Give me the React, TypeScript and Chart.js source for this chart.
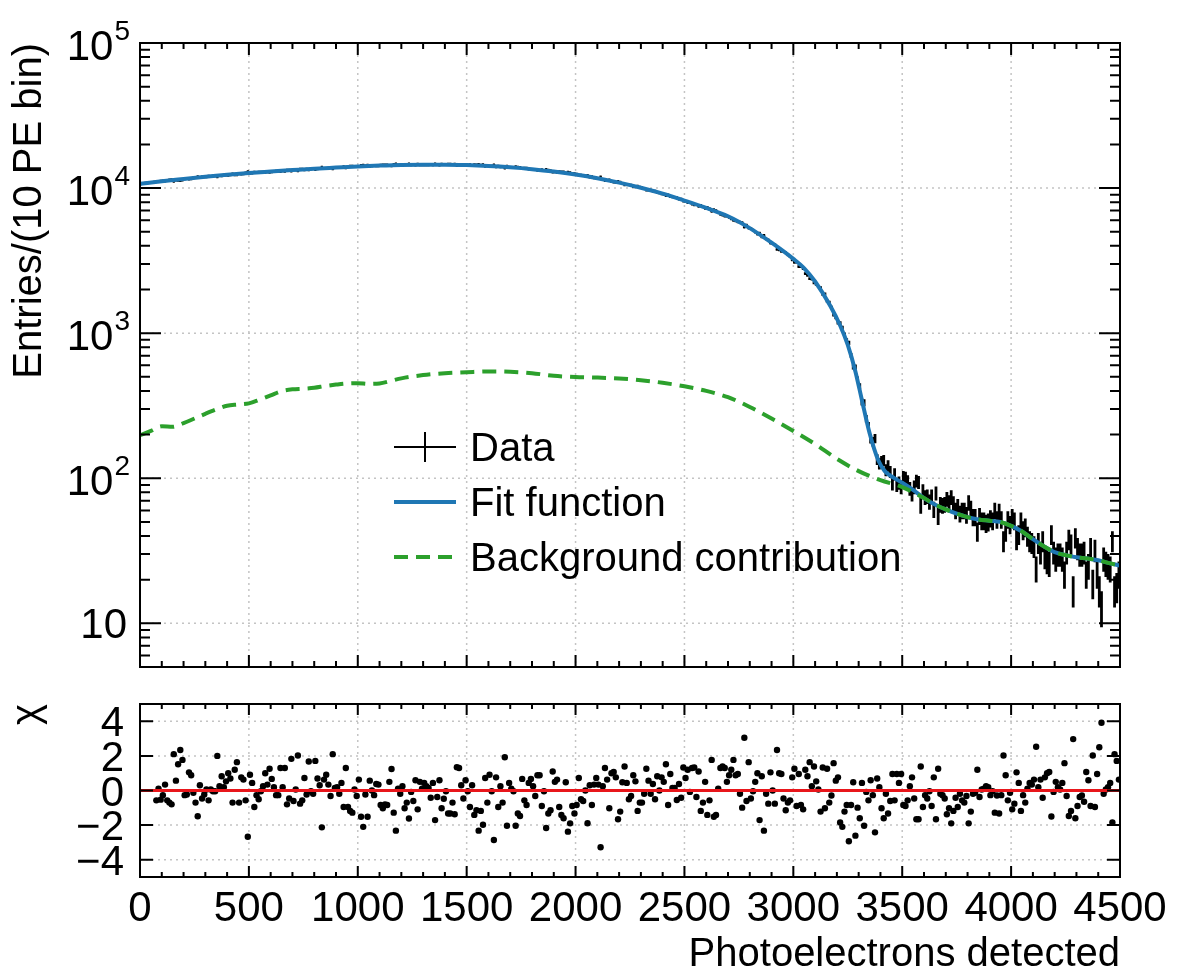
import React, { useEffect, useRef } from "react";
import { Chart, registerables } from "chart.js";

Chart.register(...registerables);

// ---- binning ----
const X_MIN = 0;
const X_MAX = 4500;
const BIN_WIDTH = 10;

// Entries per 10 PE bin (450 bins, 0 .. 4500 PE)
const counts: number[] = [
  10700, 10790, 10800, 10870, 10890, 10960, 10980, 11098, 11072, 11184,
  11199, 11174, 11311, 11365, 11415, 11146, 11349, 11288, 11240, 11340,
  11599, 11635, 11537, 11595, 11744, 11846, 11972, 11817, 11940, 11955,
  11963, 12073, 12043, 12094, 12134, 11950, 12182, 12160, 12269, 12272,
  12256, 12326, 12516, 12339, 12325, 12621, 12493, 12542, 12712, 12983,
  12612, 12695, 12883, 12836, 12893, 12870, 12867, 12811, 12916, 12842,
  12938, 13023, 13106, 13136, 12986, 13143, 13046, 13317, 13308, 13075,
  13386, 13338, 13141, 13493, 13501, 13381, 13522, 13330, 13560, 13607,
  13413, 13557, 13628, 13937, 13639, 13632, 13723, 13825, 13567, 13820,
  13841, 13910, 13861, 14050, 13810, 14100, 14152, 14189, 14056, 14126,
  14035, 14311, 14400, 14197, 14371, 14142, 14230, 14282, 14225, 14250,
  14409, 14447, 14434, 14454, 14308, 14234, 14552, 14692, 14415, 14466,
  14423, 14582, 14547, 14663, 14483, 14551, 14412, 14619, 14433, 14485,
  14447, 14470, 14482, 14551, 14447, 14706, 14546, 14429, 14624, 14558,
  14500, 14645, 14635, 14549, 14619, 14283, 14279, 14389, 14470, 14334,
  14395, 14484, 14314, 14498, 14446, 14567, 14411, 14487, 14144, 14294,
  14077, 14160, 14464, 14005, 14178, 14005, 14088, 13747, 14187, 13863,
  13867, 13845, 14039, 13916, 13892, 13602, 13707, 13698, 13509, 13442,
  13446, 13462, 13274, 13224, 13379, 13230, 13425, 13278, 13206, 12898,
  12913, 12839, 12957, 12949, 12911, 12616, 12879, 12765, 12592, 12580,
  12457, 12216, 12281, 12222, 12085, 12223, 11912, 11967, 11768, 11656,
  11624, 11928, 11473, 11282, 11273, 11369, 11074, 10987, 10940, 11116,
  10982, 10724, 10546, 10558, 10570, 10466, 10258, 10209, 10298, 10164,
  10074, 9934, 9701, 9679, 9664, 9518, 9515, 9295, 9285, 9121,
  9056, 8865, 8992, 8729, 8709, 8614, 8585, 8402, 8382, 8123,
  8090, 7952, 7970, 7754, 7656, 7711, 7486, 7592, 7455, 7254,
  7372, 7205, 6914, 7098, 6997, 6781, 6594, 6500, 6422, 6401,
  6275, 6139, 5988, 5950, 5841, 5825, 5784, 5381, 5557, 5295,
  5272, 5122, 4966, 4816, 4891, 4608, 4712, 4465, 4399, 4181,
  4143, 4080, 3777, 3757, 3659, 3645, 3587, 3467, 3367, 3202,
  3073, 3085, 2879, 2874, 2788, 2575, 2504, 2375, 2360, 2223,
  2173, 2094, 2056, 1851, 1866, 1668, 1633, 1509, 1339, 1284,
  1182, 1174, 1090, 978, 891, 859, 703, 585, 584, 480,
  431, 336, 332, 257, 229, 187, 179, 188, 135, 126,
  131, 133, 114, 122, 111, 92, 107, 90, 93, 87,
  102, 101, 95, 85, 78, 87, 96, 94, 65, 82,
  74, 75, 69, 75, 61, 79, 55, 66, 65, 66,
  72, 68, 74, 67, 60, 64, 57, 60, 60, 56,
  68, 62, 54, 54, 43, 55, 51, 51, 49, 50,
  53, 51, 60, 52, 59, 52, 37, 43, 52, 48,
  54, 51, 38, 41, 51, 44, 46, 40, 37, 36,
  34, 24, 36, 31, 37, 29, 27, 26, 41, 31,
  28, 30, 30, 28, 22, 31, 38, 35, 17, 39,
  33, 30, 30, 31, 22, 25, 33, 19, 32, 22,
  17, 13, 28, 26, 25, 24, 37, 17, 18, 22,
];

// Fit residuals per bin (null where the bin is outside the fit range)
const residuals: (number | null)[] = [
  null, null, null, null, null, null, null, -0.57, 0.1, -0.53,
  -0.27, 0.34, -0.57, -0.7, -0.8, 2.1, 0.57, 1.52, 2.34, 1.77,
  -0.27, -0.23, 1.05, 0.88, -0.13, -0.7, -1.49, 0.3, -0.46, -0.23,
  0.06, -0.57, 0.06, -0.04, -0.04, 2.0, 0.25, 0.82, 0.19, 0.53,
  1.0, 0.69, -0.7, 1.2, 1.64, -0.7, 0.76, 0.63, -0.57, -2.67,
  0.91, 0.44, -0.95, -0.27, -0.51, -0.04, 0.25, 1.0, 0.34, 1.26,
  0.67, 0.19, -0.27, -0.27, 1.3, 0.19, 1.3, -0.8, -0.46, 1.83,
  -0.61, 0.06, 2.02, -0.76, -0.57, 0.72, -0.23, 1.68, -0.04, -0.19,
  1.71, 0.69, 0.3, -2.13, 0.63, 0.91, 0.34, -0.32, 2.1, 0.15,
  0.19, -0.19, 0.44, -0.95, 1.3, -0.95, -1.18, -1.28, 0.06, -0.32,
  0.63, -1.52, -2.1, -0.23, -1.52, 0.57, 0, -0.27, 0.38, 0.34,
  -0.84, -1.03, -0.8, -0.84, 0.5, 1.24, -1.28, -2.32, 0.11, -0.19,
  0.25, -1.03, -0.7, -1.62, -0.08, -0.61, 0.59, -1.09, 0.5, 0.11,
  0.44, 0.25, 0.15, -0.42, 0.44, -1.71, -0.38, 0.59, -1.03, -0.48,
  -0.04, -1.33, -1.33, -0.7, -1.37, 1.35, 1.3, 0.3, -0.46, 0.59,
  -0.04, -0.95, 0.3, -1.41, -1.14, -2.32, -1.18, -1.98, 0.72, -0.7,
  0.91, -0.04, -2.86, 0.76, -0.95, 0.25, -0.7, 1.92, -2.04, 0.44,
  0.11, -0.04, -2.04, -1.33, -1.47, 0.67, -0.57, -0.84, 0.44, 0.67,
  0.25, -0.32, 0.88, 0.88, -0.9, -0.04, -2.17, -1.33, -1.14, 1.1,
  0.5, 0.63, -0.95, -1.41, -1.6, 0.48, -2.38, -1.9, -0.9, -1.33,
  -0.84, 0.72, -0.51, -0.61, 0, -1.89, 0.3, -0.84, 0.34, 0.72,
  0.34, -3.28, 0.25, 1.3, 0.63, -1.03, 1.0, 1.07, 0.76, -1.66,
  -1.22, 0.48, 1.39, 0.44, -0.51, -0.32, 0.88, 0.53, -1.18, -0.7,
  -0.7, -0.19, 1.26, 0.57, -0.19, 0.38, -0.51, 0.82, 0, 0.76,
  0.5, 1.52, -0.84, 0.95, 0.15, 0.15, -0.55, 0.38, -0.42, 1.33,
  0.72, 1.2, -0.08, 1.3, 1.33, -0.38, 1.1, -1.18, -0.7, 0.5,
  -1.41, -0.57, 1.77, -1.52, -1.41, 0.11, 1.3, 1.39, 1.3, 0.5,
  0.88, 1.2, 1.77, 0.88, 0.95, -0.19, -0.99, 3.05, -0.61, 1.64,
  -0.46, -0.04, 0.5, 1.0, -1.71, 0.82, -2.32, -0.19, -0.76, 1.05,
  0, -0.76, 2.34, 1.0, 0.95, -0.46, -1.14, -0.7, -0.57, 0.76,
  1.26, -0.9, 0.95, -0.84, -1.09, 1.2, 0.82, 1.64, 0.25, 1.39,
  0.53, 0.06, -1.22, 1.33, -1.03, 1.26, -0.7, -0.29, 1.58, 0.57,
  0.76, -1.85, -2.1, -1.22, -0.84, -2.93, -0.84, 0.48, -2.61, -0.99,
  -1.6, 0.44, -2.04, -0.08, -0.57, 0.59, -0.27, -2.42, 0.69, 0.19,
  -1.03, -1.6, -0.19, -1.33, -0.61, 0.95, -0.57, 0.95, 0.44, 0.95,
  -0.84, -0.9, -0.57, 0.25, 0.76, -0.46, -1.66, -1.66, 1.39, -0.95,
  -0.27, -0.46, -0.04, -0.9, 0.76, -1.66, 1.26, -0.19, -0.27, -0.46,
  -1.37, -1.03, -1.9, -1.18, -0.42, -0.95, -0.19, -0.57, -0.7, -0.32,
  -1.9, -1.22, -0.19, -0.13, 1.2, -0.38, 0.06, 0.11, 0.25, 0.19,
  -0.27, -0.04, -1.28, -0.29, -1.33, -0.27, 2.02, 0.88, -0.57, -0.13,
  -1.09, -0.76, 1.05, 0.44, -1.18, -0.27, -0.7, 0.11, 0.44, 0.34,
  0.63, 2.53, 0.19, 0.63, -0.42, 0.76, 1.0, 1.07, -1.5, -0.08,
  0.5, 0.19, 0.06, 0.44, 1.58, -0.32, -1.47, -1.18, 2.97, -1.6,
  -0.9, -0.38, -0.29, -0.65, 1.07, 0.59, -0.9, 2.02, -0.95, 0.95,
  2.5, 3.92, -0.19, 0.06, 0.19, 0.44, -1.85, 2.1, 1.71, 0.63,
];

// Fit function sampled along the PE axis
const fitPE: number[] = [
  0, 100, 200, 300, 400, 500, 600, 700, 800, 900, 1000, 1100, 1200, 1300, 1400,
  1500, 1600, 1700, 1800, 1900, 2000, 2100, 2200, 2300, 2400, 2500, 2600, 2700,
  2800, 2900, 3000, 3050, 3100, 3170, 3215, 3250, 3285, 3315, 3350, 3390, 3420,
  3460, 3500, 3550, 3600, 3650, 3700, 3750, 3800, 3850, 3900, 3950, 4000, 4050,
  4100, 4150, 4200, 4250, 4300, 4350, 4400, 4450, 4500,
];
const fitValue: number[] = [
  10700, 11150, 11550, 11950, 12350, 12700, 13000, 13300, 13600, 13850, 14100,
  14300, 14450, 14500, 14500, 14400, 14200, 13900, 13500, 13000, 12400, 11700,
  10900, 10050, 9150, 8200, 7300, 6400, 5300, 4200, 3250, 2800, 2270, 1540,
  1130, 830, 545, 345, 205, 133, 112, 101, 93, 83, 73, 66, 61, 57, 54, 52, 51,
  50, 47, 43, 38, 34, 31, 29.5, 28.5, 28, 27.2, 26, 25,
];

// Background component of the fit
const bkgPE: number[] = [
  0, 50, 100, 150, 200, 250, 300, 350, 400, 450, 500, 550, 600, 650, 700, 750,
  800, 850, 900, 950, 1000, 1050, 1100, 1150, 1200, 1300, 1400, 1500, 1600,
  1700, 1800, 1900, 2000, 2100, 2200, 2300, 2400, 2500, 2600, 2700, 2800, 2900,
  3000, 3100, 3200, 3300, 3400, 3500, 3550, 3600, 3650, 3700, 3750, 3800, 3850,
  3900, 3950, 4000, 4050, 4100, 4150, 4200, 4250, 4300, 4350, 4400, 4450, 4500,
];
const bkgValue: number[] = [
  198, 212, 228, 226, 240, 258, 278, 298, 316, 322, 328, 348, 372, 398, 410,
  414, 420, 432, 442, 450, 452, 447, 450, 468, 488, 514, 530, 538, 545, 542,
  530, 508, 498, 494, 487, 474, 455, 430, 400, 362, 310, 258, 212, 172, 136,
  112, 97, 87, 80, 73, 66, 61, 57, 54, 52, 51, 50, 47, 43, 38, 34, 31, 29.5,
  28.5, 28, 27.2, 26, 25,
];

// Axis ticks and labels
const xTickValues = [0, 500, 1000, 1500, 2000, 2500, 3000, 3500, 4000, 4500];
const decadeTicks = [10, 100, 1000, 10000, 100000];
const chiTicks = [-4, -2, 0, 2, 4];
const legendLabels = ["Data", "Fit function", "Background contribution"];
const xTitle = "Photoelectrons detected";
const yTitle = "Entries/(10 PE bin)";
const chiTitle = "\u03c7";

const FONT = '"Liberation Sans", Arial, Helvetica, sans-serif';
const BLUE = "#1f77b4";
const GREEN = "#2ca02c";
const RED = "#e8161b";
const GRID = "#c4c4c4";

const binCenter = (i: number) => X_MIN + (i + 0.5) * BIN_WIDTH;

type Area = { left: number; right: number; top: number; bottom: number };

function drawGrid(ctx: CanvasRenderingContext2D, a: Area, xs: number[], ys: number[]) {
  ctx.save();
  ctx.strokeStyle = GRID;
  ctx.lineWidth = 1.5;
  ctx.setLineDash([2, 4]);
  xs.forEach((px) => {
    ctx.beginPath();
    ctx.moveTo(px, a.top);
    ctx.lineTo(px, a.bottom);
    ctx.stroke();
  });
  ys.forEach((py) => {
    ctx.beginPath();
    ctx.moveTo(a.left, py);
    ctx.lineTo(a.right, py);
    ctx.stroke();
  });
  ctx.restore();
}

function drawFrameTicks(
  ctx: CanvasRenderingContext2D,
  a: Area,
  xTicks: { px: number; major: boolean }[],
  yTicks: { py: number; major: boolean }[],
  len: { xMaj: number; xMin: number; yMaj: number; yMin: number }
) {
  ctx.save();
  ctx.strokeStyle = "#000";
  ctx.lineWidth = 2;
  ctx.setLineDash([]);
  ctx.beginPath();
  xTicks.forEach(({ px, major }) => {
    const l = major ? len.xMaj : len.xMin;
    ctx.moveTo(px, a.bottom);
    ctx.lineTo(px, a.bottom - l);
    ctx.moveTo(px, a.top);
    ctx.lineTo(px, a.top + l);
  });
  yTicks.forEach(({ py, major }) => {
    const l = major ? len.yMaj : len.yMin;
    ctx.moveTo(a.left, py);
    ctx.lineTo(a.left + l, py);
    ctx.moveTo(a.right, py);
    ctx.lineTo(a.right - l, py);
  });
  ctx.stroke();
  ctx.strokeRect(a.left, a.top, a.right - a.left, a.bottom - a.top);
  ctx.restore();
}

function xTickList(scale: any) {
  const list: { px: number; major: boolean }[] = [];
  for (let v = X_MIN; v <= X_MAX; v += 100) {
    list.push({ px: scale.getPixelForValue(v), major: v % 500 === 0 });
  }
  return list;
}

// Decorations of the spectrum panel: grid, error bars, frame, labels, legend
const spectrumDecor = {
  id: "spectrumDecor",
  beforeDatasetsDraw(chart: any) {
    const { ctx, chartArea: a, scales } = chart;
    const xs = scales.x;
    const ys = scales.y;
    drawGrid(
      ctx,
      a,
      xTickValues.filter((v) => v > X_MIN && v < X_MAX).map((v) => xs.getPixelForValue(v)),
      decadeTicks.filter((v) => v < ys.max).map((v) => ys.getPixelForValue(v))
    );
    // data points with Poisson error bars
    const pts = chart.data.datasets[2].data as { x: number; y: number }[];
    ctx.save();
    ctx.beginPath();
    ctx.rect(a.left, a.top, a.right - a.left, a.bottom - a.top);
    ctx.clip();
    ctx.strokeStyle = "#000";
    ctx.lineWidth = 2.8;
    ctx.beginPath();
    pts.forEach((p) => {
      const s = Math.sqrt(p.y);
      const px = xs.getPixelForValue(p.x);
      const x0 = xs.getPixelForValue(p.x - BIN_WIDTH / 2);
      const x1 = xs.getPixelForValue(p.x + BIN_WIDTH / 2);
      const py = ys.getPixelForValue(p.y);
      const lo = p.y - s > ys.min ? ys.getPixelForValue(p.y - s) : a.bottom;
      const hi = ys.getPixelForValue(p.y + s);
      ctx.moveTo(px, lo);
      ctx.lineTo(px, hi);
      ctx.moveTo(x0, py);
      ctx.lineTo(x1, py);
    });
    ctx.stroke();
    ctx.restore();
  },
  afterDatasetsDraw(chart: any) {
    const { ctx, chartArea: a, scales } = chart;
    const xs = scales.x;
    const ys = scales.y;
    const yTicks: { py: number; major: boolean }[] = [];
    for (let e = 0; e <= 5; e++) {
      for (let k = 1; k <= 9; k++) {
        const v = k * Math.pow(10, e);
        if (v < ys.min || v > ys.max) continue;
        yTicks.push({ py: ys.getPixelForValue(v), major: k === 1 });
      }
    }
    drawFrameTicks(ctx, a, xTickList(xs), yTicks, { xMaj: 12, xMin: 6, yMaj: 21, yMin: 10 });

    // y tick labels (powers of ten)
    ctx.save();
    ctx.fillStyle = "#000";
    const xr = 130;
    decadeTicks.forEach((v) => {
      const py = ys.getPixelForValue(v);
      const exp = Math.round(Math.log10(v));
      if (exp === 1) {
        ctx.font = `42px ${FONT}`;
        ctx.textAlign = "right";
        ctx.textBaseline = "alphabetic";
        ctx.fillText("10", xr - 3, py + 15);
        return;
      }
      ctx.font = `28px ${FONT}`;
      const ew = ctx.measureText(String(exp)).width;
      ctx.textAlign = "left";
      ctx.textBaseline = "alphabetic";
      ctx.fillText(String(exp), xr - ew, py - 3);
      ctx.font = `42px ${FONT}`;
      ctx.textAlign = "right";
      ctx.fillText("10", xr - ew - 1, py + 17);
    });

    // y axis title
    ctx.font = `40px ${FONT}`;
    ctx.translate(41, a.top);
    ctx.rotate(-Math.PI / 2);
    ctx.textAlign = "right";
    ctx.textBaseline = "alphabetic";
    ctx.fillText(yTitle, 0, 0);
    ctx.restore();

    // legend
    ctx.save();
    const lx0 = 394;
    const lx1 = 456;
    const rows = [447, 502, 557];
    ctx.strokeStyle = "#000";
    ctx.lineWidth = 2;
    ctx.beginPath();
    ctx.moveTo(lx0, rows[0]);
    ctx.lineTo(lx1, rows[0]);
    ctx.moveTo((lx0 + lx1) / 2, rows[0] - 15);
    ctx.lineTo((lx0 + lx1) / 2, rows[0] + 15);
    ctx.stroke();
    ctx.strokeStyle = BLUE;
    ctx.lineWidth = 4;
    ctx.beginPath();
    ctx.moveTo(lx0, rows[1]);
    ctx.lineTo(lx1, rows[1]);
    ctx.stroke();
    ctx.strokeStyle = GREEN;
    ctx.setLineDash([14, 8]);
    ctx.beginPath();
    ctx.moveTo(lx0, rows[2]);
    ctx.lineTo(lx1, rows[2]);
    ctx.stroke();
    ctx.setLineDash([]);
    ctx.fillStyle = "#000";
    ctx.font = `40px ${FONT}`;
    ctx.textAlign = "left";
    ctx.textBaseline = "alphabetic";
    legendLabels.forEach((t, i) => ctx.fillText(t, 470, rows[i] + 14));
    ctx.restore();
  },
};

// Decorations of the residual panel
const residualDecor = {
  id: "residualDecor",
  beforeDatasetsDraw(chart: any) {
    const { ctx, chartArea: a, scales } = chart;
    drawGrid(
      ctx,
      a,
      xTickValues.filter((v) => v > X_MIN && v < X_MAX).map((v) => scales.x.getPixelForValue(v)),
      chiTicks.filter((v) => v !== 0).map((v) => scales.y.getPixelForValue(v))
    );
  },
  afterDatasetsDraw(chart: any) {
    const { ctx, chartArea: a, scales } = chart;
    const xs = scales.x;
    const ys = scales.y;
    drawFrameTicks(
      ctx,
      a,
      xTickList(xs),
      chiTicks.map((v) => ({ py: ys.getPixelForValue(v), major: true })),
      { xMaj: 11, xMin: 5, yMaj: 13, yMin: 6 }
    );
    ctx.save();
    ctx.fillStyle = "#000";
    ctx.font = `42px ${FONT}`;
    ctx.textBaseline = "alphabetic";
    ctx.textAlign = "right";
    chiTicks.forEach((v) => {
      const label = v < 0 ? "\u2212" + Math.abs(v) : String(v);
      ctx.fillText(label, 124, ys.getPixelForValue(v) + 15);
    });
    ctx.textAlign = "center";
    xTickValues.forEach((v) => {
      ctx.fillText(String(v), xs.getPixelForValue(v), a.bottom + 44);
    });
    ctx.font = `40px ${FONT}`;
    ctx.textAlign = "right";
    ctx.fillText(xTitle, a.right, a.bottom + 89);
    ctx.translate(39, a.top);
    ctx.rotate(-Math.PI / 2);
    ctx.textAlign = "right";
    ctx.fillText(chiTitle, 0, 0);
    ctx.restore();
  },
};

export default function App() {
  const topRef = useRef<HTMLCanvasElement>(null);
  const botRef = useRef<HTMLCanvasElement>(null);

  useEffect(() => {
    if (!topRef.current || !botRef.current) return;

    const dataPoints = counts.map((c, i) => ({ x: binCenter(i), y: c }));
    const fitPoints = fitPE.map((x, i) => ({ x, y: fitValue[i] }));
    const bkgPoints = bkgPE.map((x, i) => ({ x, y: bkgValue[i] }));

    const spectrum = new Chart(topRef.current, {
      type: "line",
      data: {
        datasets: [
          {
            label: legendLabels[2],
            data: bkgPoints,
            borderColor: GREEN,
            borderWidth: 4,
            borderDash: [14, 8],
            pointRadius: 0,
            cubicInterpolationMode: "monotone",
            fill: false,
          },
          {
            label: legendLabels[1],
            data: fitPoints,
            borderColor: BLUE,
            borderWidth: 4,
            pointRadius: 0,
            cubicInterpolationMode: "monotone",
            fill: false,
          },
          {
            label: legendLabels[0],
            data: dataPoints,
            showLine: false,
            pointRadius: 0,
            borderColor: "#000",
          },
        ],
      } as any,
      options: {
        responsive: false,
        animation: false,
        events: [],
        layout: { padding: { left: 140, top: 43, right: 62, bottom: 23 } },
        scales: {
          x: { type: "linear", min: X_MIN, max: X_MAX, display: false },
          y: { type: "logarithmic", min: 5, max: 100000, display: false },
        },
        plugins: { legend: { display: false }, tooltip: { enabled: false } },
      } as any,
      plugins: [spectrumDecor],
    });

    const chiPoints = residuals
      .map((r, i) => (r === null ? null : { x: binCenter(i), y: r }))
      .filter((p) => p !== null);

    const residual = new Chart(botRef.current, {
      type: "scatter",
      data: {
        datasets: [
          {
            type: "line",
            label: "zero",
            data: [
              { x: X_MIN, y: 0 },
              { x: X_MAX, y: 0 },
            ],
            borderColor: RED,
            borderWidth: 3,
            pointRadius: 0,
            fill: false,
          },
          {
            label: chiTitle,
            data: chiPoints,
            pointRadius: 3.2,
            pointBackgroundColor: "#000",
            pointBorderWidth: 0,
            borderColor: "#000",
            backgroundColor: "#000",
          },
        ],
      } as any,
      options: {
        responsive: false,
        animation: false,
        events: [],
        layout: { padding: { left: 140, top: 14, right: 62, bottom: 101 } },
        scales: {
          x: { type: "linear", min: X_MIN, max: X_MAX, display: false },
          y: { type: "linear", min: -5, max: 5, display: false },
        },
        plugins: { legend: { display: false }, tooltip: { enabled: false } },
      } as any,
      plugins: [residualDecor],
    });

    return () => {
      spectrum.destroy();
      residual.destroy();
    };
  }, []);

  return (
    <div style={{ position: "absolute", left: 0, top: 0, width: 1182, height: 978, background: "#fff" }}>
      <canvas ref={topRef} width={1182} height={690} style={{ position: "absolute", left: 0, top: 0 }} />
      <canvas ref={botRef} width={1182} height={288} style={{ position: "absolute", left: 0, top: 690 }} />
    </div>
  );
}
